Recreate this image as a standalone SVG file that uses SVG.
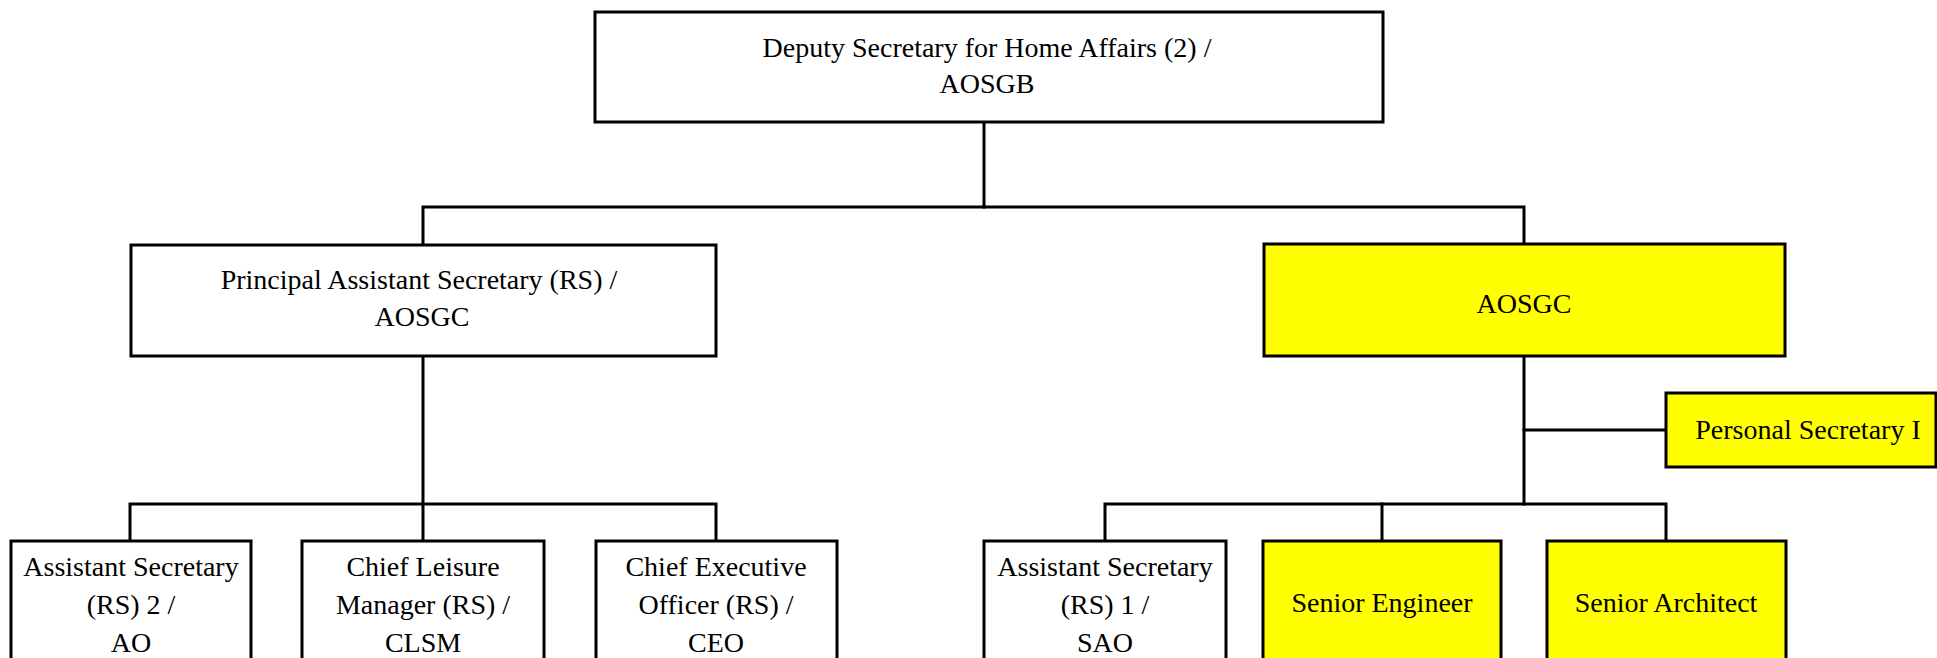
<svg xmlns="http://www.w3.org/2000/svg" width="1937" height="658" viewBox="0 0 1937 658">
<style>
.box{stroke:#000;stroke-width:3;fill:#fff}
.y{fill:#ffff00}
.t{font-family:"Liberation Serif","Times New Roman",serif;font-size:28px;fill:#000;text-anchor:middle}
.c{fill:none;stroke:#000;stroke-width:3;stroke-linejoin:miter;stroke-linecap:square}
</style>
<rect width="1937" height="658" fill="#fff"/>
<g id="connectors">
<path class="c" d="M984,122 V207"/>
<path class="c" d="M423,245 V207 H1524 V244"/>
<path class="c" d="M423,356 V541"/>
<path class="c" d="M130,541 V504 H716 V541"/>
<path class="c" d="M1524,356 V504"/>
<path class="c" d="M1524,430 H1666"/>
<path class="c" d="M1105,541 V504 H1666 V541"/>
<path class="c" d="M1382,504 V541"/>
</g>
<g id="dsha">
<rect class="box" x="595" y="12" width="788" height="110"/>
<text class="t" x="987" y="57">Deputy Secretary for Home Affairs (2) /</text>
<text class="t" x="987" y="93">AOSGB</text>
</g>
<g id="pas">
<rect class="box" x="131" y="245" width="585" height="111"/>
<text class="t" x="419" y="289">Principal Assistant Secretary (RS) /</text>
<text class="t" x="422" y="326">AOSGC</text>
</g>
<g id="aosgc">
<rect class="box y" x="1264" y="244" width="521" height="112"/>
<text class="t" x="1524" y="313">AOSGC</text>
</g>
<g id="ps1">
<rect class="box y" x="1666" y="393" width="270" height="74"/>
<text class="t" x="1808" y="439">Personal Secretary I</text>
</g>
<g id="as2">
<rect class="box" x="11" y="541" width="240" height="140"/>
<text class="t" x="131" y="576">Assistant Secretary</text>
<text class="t" x="131" y="614">(RS) 2 /</text>
<text class="t" x="131" y="652">AO</text>
</g>
<g id="clm">
<rect class="box" x="302" y="541" width="242" height="140"/>
<text class="t" x="423" y="576">Chief Leisure</text>
<text class="t" x="423" y="614">Manager (RS) /</text>
<text class="t" x="423" y="652">CLSM</text>
</g>
<g id="ceo">
<rect class="box" x="596" y="541" width="241" height="140"/>
<text class="t" x="716" y="576">Chief Executive</text>
<text class="t" x="716" y="614">Officer (RS) /</text>
<text class="t" x="716" y="652">CEO</text>
</g>
<g id="as1">
<rect class="box" x="984" y="541" width="242" height="140"/>
<text class="t" x="1105" y="576">Assistant Secretary</text>
<text class="t" x="1105" y="614">(RS) 1 /</text>
<text class="t" x="1105" y="652">SAO</text>
</g>
<g id="se">
<rect class="box y" x="1263" y="541" width="238" height="140"/>
<text class="t" x="1382" y="612">Senior Engineer</text>
</g>
<g id="sa">
<rect class="box y" x="1547" y="541" width="239" height="140"/>
<text class="t" x="1666" y="612">Senior Architect</text>
</g>
</svg>
